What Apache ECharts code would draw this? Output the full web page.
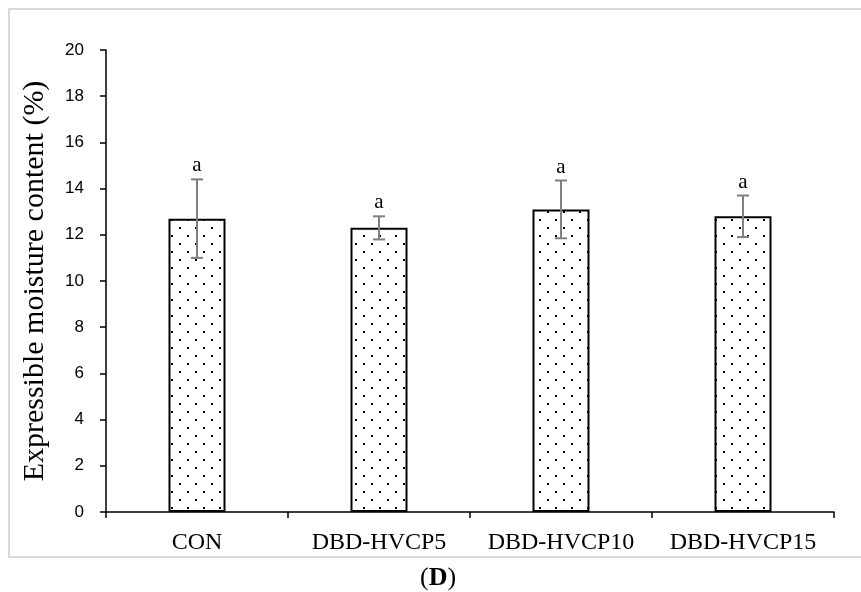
<!DOCTYPE html>
<html>
<head>
<meta charset="utf-8">
<script src="https://cdn.jsdelivr.net/npm/echarts@6/dist/echarts.min.js"></script>
<style>
  html, body { margin: 0; padding: 0; background: #fff; }
  #chart { width: 861px; height: 592px; }
</style>
</head>
<body>
<div id="chart"></div>
<script>
// data
const categories = ["CON", "DBD-HVCP5", "DBD-HVCP10", "DBD-HVCP15"];
const meanValues = [12.7, 12.3, 13.1, 12.8];
const errValues = [1.7, 0.5, 1.25, 0.9];
const letters = ["a", "a", "a", "a"];
const yTicks = { min: 0, max: 20, interval: 2 };

// dotted fill pattern
const makeDots = () => {
  const c = document.createElement("canvas");
  c.width = 16;
  c.height = 16;
  const ctx = c.getContext("2d");
  ctx.fillStyle = "#fff";
  ctx.fillRect(0, 0, 16, 16);
  ctx.fillStyle = "#000";
  ctx.fillRect(3, 3, 2, 2);
  ctx.fillRect(11, 11, 2, 2);
  return c;
};

const chart = echarts.init(document.getElementById("chart"));

const errData = categories.map((c, i) => [i, meanValues[i], errValues[i]]);

const option = {
  animation: false,
  backgroundColor: "#fff",
  grid: { left: 106, right: 27, top: 50, bottom: 80 },
  graphic: [
    {
      type: "rect",
      shape: { x: 9, y: 9, width: 920, height: 548 },
      style: { fill: "none", stroke: "#d9d9d9", lineWidth: 2 },
      silent: true,
    },
    {
      type: "text",
      left: 420,
      top: 565,
      style: {
        text: "({b|D})",
        font: "26px 'Liberation Serif'",
        fill: "#000",
        rich: { b: { font: "bold 26px 'Liberation Serif'", fill: "#000" } },
      },
    },
  ],
  xAxis: {
    type: "category",
    data: categories,
    axisLine: { lineStyle: { color: "#000", width: 1.5 } },
    axisTick: { show: true, interval: 0, length: 6, lineStyle: { color: "#000", width: 1.5 } },
    axisLabel: {
      interval: 0,
      hideOverlap: false,
      color: "#000",
      fontFamily: "Liberation Serif",
      fontSize: 24,
      margin: 19,
    },
  },
  yAxis: {
    type: "value",
    min: yTicks.min,
    max: yTicks.max,
    interval: yTicks.interval,
    name: "Expressible moisture content (%)",
    nameLocation: "middle",
    nameGap: 56,
    nameTextStyle: {
      color: "#000",
      fontFamily: "Liberation Serif",
      fontSize: 30,
    },
    axisLine: { show: true, lineStyle: { color: "#000", width: 1.5 } },
    axisTick: { show: true, length: 6, lineStyle: { color: "#000", width: 1.5 } },
    splitLine: { show: false },
    axisLabel: {
      color: "#000",
      fontFamily: "Liberation Sans",
      fontSize: 17,
      margin: 22,
    },
  },
  series: [
    {
      type: "bar",
      data: meanValues,
      barWidth: 57,
      itemStyle: {
        color: { image: makeDots(), repeat: "repeat" },
        borderColor: "#000",
        borderWidth: 2,
      },
      z: 2,
    },
    {
      type: "custom",
      data: errData,
      z: 3,
      renderItem: (params, api) => {
        const i = api.value(0);
        const m = api.value(1);
        const e = api.value(2);
        const top = api.coord([i, m + e]);
        const bot = api.coord([i, m - e]);
        const cap = 6;
        const ls = { stroke: "#7f7f7f", lineWidth: 2 };
        return {
          type: "group",
          children: [
            { type: "line", shape: { x1: top[0], y1: top[1], x2: bot[0], y2: bot[1] }, style: ls },
            { type: "line", shape: { x1: top[0] - cap, y1: top[1], x2: top[0] + cap, y2: top[1] }, style: ls },
            { type: "line", shape: { x1: bot[0] - cap, y1: bot[1], x2: bot[0] + cap, y2: bot[1] }, style: ls },
            {
              type: "text",
              style: {
                text: letters[params.dataIndex],
                x: top[0],
                y: top[1] - 3,
                align: "center",
                verticalAlign: "bottom",
                font: "21px 'Liberation Serif'",
                fill: "#000",
              },
            },
          ],
        };
      },
    },
  ],
};

chart.setOption(option);
</script>
</body>
</html>
